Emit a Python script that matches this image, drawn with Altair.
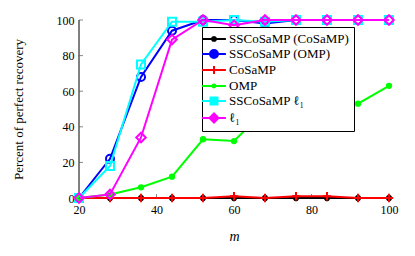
import altair as alt
import pandas as pd

# ---- data ----
m = [20, 28, 36, 44, 52, 60, 68, 76, 84, 92, 100]
sscosamp_cosamp = [0, 0, 0, 0, 0, 0, 0, 0, 0, 0, 0]
sscosamp_omp = [0, 22, 68, 94, 100, 100, 98, 100, 100, 100, 100]
cosamp = [0, 0, 0, 0, 0, 1, 0, 1, 1, 0, 0]
omp = [0, 2, 6, 12, 33, 32, 49, 50, 53, 53, 63]
sscosamp_l1 = [0, 18, 75, 99, 99, 100, 99, 100, 100, 100, 100]
l1 = [0, 2, 34, 89, 100, 97, 100, 100, 100, 100, 100]

names = ["SSCoSaMP (CoSaMP)", "SSCoSaMP (OMP)", "CoSaMP", "OMP", "SSCoSaMP ℓ₁", "ℓ₁"]
colors = ["#000000", "#0000ff", "#ff0000", "#00ff00", "#00ffff", "#ff00ff"]
series = [sscosamp_cosamp, sscosamp_omp, cosamp, omp, sscosamp_l1, l1]

x_domain = [20, 100]
y_domain = [0, 100]
x_ticks = [20, 40, 60, 80, 100]
y_ticks = [0, 20, 40, 60, 80, 100]

rows = []
for n, vals in zip(names, series):
    for xv, yv in zip(m, vals):
        rows.append({"m": xv, "pct": yv, "series": n})
df = pd.DataFrame(rows)

FONT = "Liberation Serif"

plot_shapes = [
    "M-1,0H1M0,-1V1M-0.7,-0.7L0.7,0.7M-0.7,0.7L0.7,-0.7",
    "circle",
    "M-1,0H1M0,-1V1",
    "circle",
    "square",
    "diamond",
]
plot_sizes = [40, 64, 70, 40, 64, 90]
plot_filled = [False, False, False, True, False, False]

legend_paths = [
    "M-1.7,0H1.7M-0.3,-0.3L0.3,0.3M-0.3,0.3L0.3,-0.3M0,-0.4V0.4",
    "M-1.7,0H-0.57M0.57,0H1.7M-0.57,0A0.57,0.57 0 1,1 0.57,0A0.57,0.57 0 1,1 -0.57,0",
    "M-1.7,0H1.7M0,-0.57V0.57",
    "M-1.7,0H1.7M-0.2,0A0.2,0.2 0 1,1 0.2,0A0.2,0.2 0 1,1 -0.2,0",
    "M-1.7,0H-0.5M0.5,0H1.7M-0.5,-0.5H0.5V0.5H-0.5Z",
    "M-1.7,0H-0.64M0.64,0H1.7M0,-0.64L0.64,0L0,0.64L-0.64,0Z",
]

xscale = alt.Scale(domain=x_domain, nice=False)
yscale = alt.Scale(domain=y_domain, nice=False)
cscale = alt.Scale(domain=names, range=colors)

legend = alt.Legend(title=None, orient="none", legendX=123, legendY=7,
                    symbolSize=196, symbolStrokeWidth=2, labelOffset=7,
                    labelFont=FONT, labelFontSize=13, labelColor="black",
                    labelLimit=300, padding=4, rowPadding=0,
                    strokeColor="black", fillColor="white")

x_axis = alt.Axis(values=x_ticks, grid=False, domain=False, ticks=False,
                  labelPadding=6, labelColor="black",
                  labelFlush=False, labelOverlap=False,
                  title="m", titleFontStyle="italic", titleFontWeight="normal",
                  titleFontSize=14, titlePadding=14)
y_axis = alt.Axis(values=y_ticks, grid=False, domain=False, ticks=False,
                  labelPadding=5, labelColor="black",
                  labelFlush=False, labelOverlap=False,
                  title="Percent of perfect recovery", titleFontWeight="normal",
                  titleFontSize=13, titlePadding=31)

X = alt.X("m:Q", scale=xscale, axis=x_axis)
Y = alt.Y("pct:Q", scale=yscale, axis=y_axis)
C = alt.Color("series:N", scale=cscale, legend=legend)

# axis lines and inward ticks, positioned in data units through the scales
left_line = alt.Chart(pd.DataFrame({"m": [x_domain[0]]})).mark_rule(color="black", strokeWidth=1).encode(
    x=alt.X("m:Q", scale=xscale, axis=x_axis),
    y=alt.datum(y_domain[0], scale=yscale, axis=y_axis), y2=alt.datum(y_domain[1]),
)
bottom_line = alt.Chart(pd.DataFrame({"pct": [y_domain[0]]})).mark_rule(color="black", strokeWidth=1).encode(
    y=alt.Y("pct:Q", scale=yscale, axis=y_axis),
    x=alt.datum(x_domain[0], scale=xscale, axis=x_axis), x2=alt.datum(x_domain[1]),
)
x_tick_marks = alt.Chart(pd.DataFrame({"m": x_ticks})).mark_tick(
    orient="vertical", size=4, thickness=1, color="#555555", yOffset=-2).encode(
    x=alt.X("m:Q", scale=xscale, axis=x_axis),
    y=alt.datum(y_domain[0], scale=yscale, axis=y_axis),
)
y_tick_marks = alt.Chart(pd.DataFrame({"pct": y_ticks})).mark_tick(
    orient="horizontal", size=4, thickness=1, color="#555555", xOffset=2).encode(
    y=alt.Y("pct:Q", scale=yscale, axis=y_axis),
    x=alt.datum(x_domain[0], scale=xscale, axis=x_axis),
)

layers = [left_line, bottom_line, x_tick_marks, y_tick_marks]
for i, n in enumerate(names):
    sub = df[df["series"] == n]
    line = alt.Chart(sub).mark_line(strokeWidth=2).encode(x=X, y=Y, color=C)
    pts = alt.Chart(sub).mark_point(
        shape=plot_shapes[i], size=plot_sizes[i], filled=plot_filled[i],
        strokeWidth=2, opacity=1,
    ).encode(x=X, y=Y, color=C)
    layers += [line, pts]

legend_layer = alt.Chart(df).mark_point(filled=False, strokeWidth=2, clip=True, opacity=1).transform_calculate(
    off="-1000"
).encode(
    x=X,
    y=alt.Y("off:Q", scale=yscale, axis=y_axis),
    color=C,
    shape=alt.Shape("series:N", scale=alt.Scale(domain=names, range=legend_paths), legend=legend),
)
layers.append(legend_layer)

chart = alt.layer(*layers).properties(
    width=310, height=178,
    autosize=alt.AutoSizeParams(type="none"),
    padding={"left": 71, "top": 12, "right": 10, "bottom": 50},
).configure(font=FONT).configure_view(stroke=None).configure_axis(
    labelFont=FONT, titleFont=FONT, labelFontSize=12, titleColor="black",
    labelOverlap=False, labelFlush=False
).configure_legend(labelFont=FONT, labelFontSize=13)

chart.save("out.html", embed_options={"renderer": "svg", "actions": False})
